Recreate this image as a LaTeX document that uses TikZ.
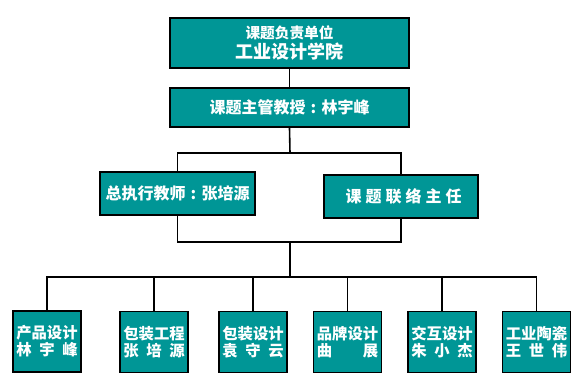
\documentclass[tikz,border=0pt]{standalone}
\usepackage{fontspec}
\newfontfamily\cjk{Noto Sans CJK SC}
\definecolor{qingse}{RGB}{0,150,150}
\newcommand{\fenkai}[1]{\makebox[4em][s]{#1}}
\newcommand{\maohao}{\makebox[1em]{:}}
\begin{document}
\begin{tikzpicture}[x=0.75pt, y=-0.75pt, font=\cjk\bfseries]
    \tikzstyle{box}=[draw=black, line width=1.4pt, fill=qingse, text=white, inner sep=0pt, align=center]
    \tikzstyle{mid box}=[box, minimum width=116pt, minimum height=32.25pt, font=\cjk\bfseries\fontsize{12}{14}\selectfont]
    \tikzstyle{leaf box}=[box, minimum width=51pt, minimum height=45.75pt, font=\cjk\bfseries\fontsize{11.5}{12.75}\selectfont]
    \tikzstyle{link}=[line width=1.2pt]
    \useasboundingbox (0,0) rectangle (586,382);

    % 上层
    \node[box, minimum width=179.25pt, minimum height=37.5pt] (unit) at (289.5,43)
        {{\fontsize{11}{13}\selectfont 课题负责单位}\\[1pt]{\fontsize{13.5}{16}\selectfont 工业设计学院}};
    \node[box, minimum width=179.25pt, minimum height=29.25pt, font=\cjk\bfseries\fontsize{12}{14}\selectfont] (prof) at (289.5,107.5)
        {课题主管教授\maohao 林宇峰};

    % 中层
    \node[mid box] (exec) at (177.5,193.5) {总执行教师\maohao 张培源};
    \node[mid box] (contact) at (401,196.5) {\hspace{4pt}课\hspace{3pt}题\hspace{3pt}联\hspace{3pt}络\hspace{3pt}主\hspace{3pt}任};

    % 下层
    \node[leaf box] (b1) at (47,341.5) {产品设计\\\fenkai{林\hfil 宇\hfil 峰}};
    \node[leaf box] (b2) at (154,342) {包装工程\\\fenkai{张\hfil 培\hfil 源}};
    \node[leaf box] (b3) at (253,342) {包装设计\\\fenkai{袁\hfil 守\hfil 云}};
    \node[leaf box] (b4) at (347.5,342) {品牌设计\\\fenkai{曲\hfil 展}};
    \node[leaf box] (b5) at (442,342) {交互设计\\\fenkai{朱\hfil 小\hfil 杰}};
    \node[leaf box] (b6) at (536.5,342) {工业陶瓷\\\fenkai{王\hfil 世\hfil 伟}};

    % 连线
    \coordinate (fork1) at (290,153);
    \coordinate (fork2) at (290,242);
    \coordinate (bus) at (290,277);
    \draw[link] (unit.south) -- (prof.north);
    \draw[link] (prof.south) -- (fork1);
    \draw[link] (exec.north) |- (fork1) -| (contact.north);
    \draw[link] (exec.south) |- (fork2) -| (contact.south);
    \draw[link] (fork2) -- (bus);
    \draw[link] (b1.north) |- (bus) -| (b6.north);
    \draw[link] (b2.north) -- (b2.north |- bus);
    \draw[link] (b3.north) -- (b3.north |- bus);
    \draw[link] (b4.north) -- (b4.north |- bus);
    \draw[link] (b5.north) -- (b5.north |- bus);
\end{tikzpicture}
\end{document}
